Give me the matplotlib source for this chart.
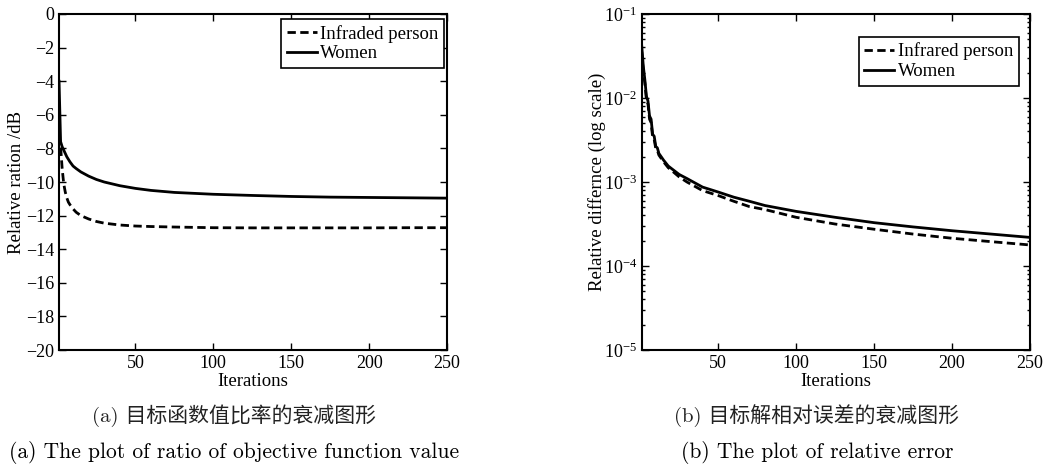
import matplotlib
matplotlib.use('Agg')
import matplotlib.pyplot as plt
import numpy as np

plt.rcParams['font.family'] = ['Liberation Serif', 'DejaVu Serif']
plt.rcParams['mathtext.fontset'] = 'custom'
plt.rcParams['mathtext.rm'] = 'Liberation Serif'
plt.rcParams['axes.unicode_minus'] = True

''' data read off the picture '''
# (a) relative ratio, dB
iter_a = [1, 2, 3, 4, 5, 6, 7, 8, 10, 12, 15, 20, 25, 30, 40, 50, 60, 75,
          100, 125, 150, 175, 200, 225, 250]
women_a = [-4.0, -7.6, -7.9, -8.1, -8.3, -8.5, -8.65, -8.8, -9.05, -9.2, -9.4,
           -9.65, -9.85, -10.0, -10.22, -10.38, -10.5, -10.62, -10.73, -10.8,
           -10.86, -10.9, -10.92, -10.94, -10.96]
infra_a = [-7.2, -7.9, -9.2, -10.1, -10.6, -10.95, -11.2, -11.35, -11.6, -11.8,
           -12.0, -12.2, -12.35, -12.45, -12.56, -12.62, -12.65, -12.68, -12.72,
           -12.73, -12.73, -12.73, -12.73, -12.72, -12.72]

# (b) relative difference, log scale
iter_b = [1, 2, 3, 4, 5, 6, 7, 8, 9, 10, 11, 12, 15, 18, 20, 25, 30, 40, 50,
          60, 70, 80, 100, 125, 150, 175, 200, 225, 250]
women_b = [0.0417, 0.024, 0.0165, 0.0105, 0.0092, 0.0061, 0.0056, 0.0037,
           0.0035, 0.00265, 0.00255, 0.00219, 0.00182, 0.00155, 0.00145,
           0.00123, 0.0011, 8.7e-4, 7.6e-4, 6.6e-4, 5.9e-4, 5.25e-4, 4.47e-4,
           3.8e-4, 3.28e-4, 2.92e-4, 2.63e-4, 2.4e-4, 2.19e-4]
infra_b = [0.0355, 0.021, 0.0150, 0.0095, 0.0085, 0.0056, 0.0051, 0.0034,
           0.0032, 0.00250, 0.00240, 0.00209, 0.00174, 0.00148, 0.00138,
           0.00115, 0.001, 7.9e-4, 6.9e-4, 5.9e-4, 5.1e-4, 4.7e-4, 3.8e-4,
           3.16e-4, 2.74e-4, 2.4e-4, 2.14e-4, 1.95e-4, 1.78e-4]

xticks = [50, 100, 150, 200, 250]

fig = plt.figure(figsize=(10.45, 4.68), dpi=100)
ax1 = fig.add_axes([0.0565, 0.2521, 0.3713, 0.718])
ax2 = fig.add_axes([0.6141, 0.2521, 0.3716, 0.718])

dash = (0, (3, 1.6))
lw = 2.0

def style_axes(ax):
    ax.set_xlim(1, 250)
    ax.set_xticks(xticks)
    ax.tick_params(direction='in', which='both', top=True, right=True,
                   labelsize=13, width=1)
    ax.tick_params(which='major', length=5)
    ax.tick_params(which='minor', length=2.5)
    for s in ax.spines.values():
        s.set_linewidth(1.5)
    ax.set_xlabel('Iterations', fontsize=13.5, labelpad=1)

def add_legend(ax, anchor):
    leg = ax.legend(loc='upper right', bbox_to_anchor=anchor, borderaxespad=0,
                    fontsize=13.5, frameon=True, fancybox=False, framealpha=1,
                    edgecolor='black', handlelength=1.6, handletextpad=0.2,
                    borderpad=0.3, labelspacing=0.15)
    leg.get_frame().set_linewidth(1.2)

# (a)
ax1.plot(iter_a, infra_a, color='black', lw=lw, linestyle=dash, label='Infraded person')
ax1.plot(iter_a, women_a, color='black', lw=lw, label='Women')
ax1.set_ylim(-20, 0)
ax1.set_yticks(np.arange(-20, 1, 2))
style_axes(ax1)
ax1.set_ylabel('Relative ration /dB', fontsize=13.5, labelpad=1)
add_legend(ax1, (0.993, 0.985))

# (b)
ax2.plot(iter_b, infra_b, color='black', lw=lw, linestyle=dash, label='Infrared person')
ax2.plot(iter_b, women_b, color='black', lw=lw, label='Women')
ax2.set_yscale('log')
ax2.set_ylim(1e-5, 1e-1)
style_axes(ax2)
ax2.set_ylabel('Relative differnce (log scale)', fontsize=13.5, labelpad=-2)
add_legend(ax2, (0.972, 0.932))

# captions
cap_font = ['cmr10', 'Noto Sans CJK SC']
fig.text(234 / 1045, 1 - 416 / 468, '(a) 目标函数值比率的衰减图形', family=cap_font,
         fontsize=15, ha='center', va='center', color='#222222')
fig.text(234 / 1045, 1 - 453 / 468, '(a) The plot of ratio of objective function value',
         family=cap_font, fontsize=15.5, ha='center', va='center')
fig.text(817 / 1045, 1 - 416 / 468, '(b) 目标解相对误差的衰减图形', family=cap_font,
         fontsize=15, ha='center', va='center', color='#222222')
fig.text(817 / 1045, 1 - 453 / 468, '(b) The plot of relative error',
         family=cap_font, fontsize=15.5, ha='center', va='center')

fig.savefig('out.png', dpi=100)
